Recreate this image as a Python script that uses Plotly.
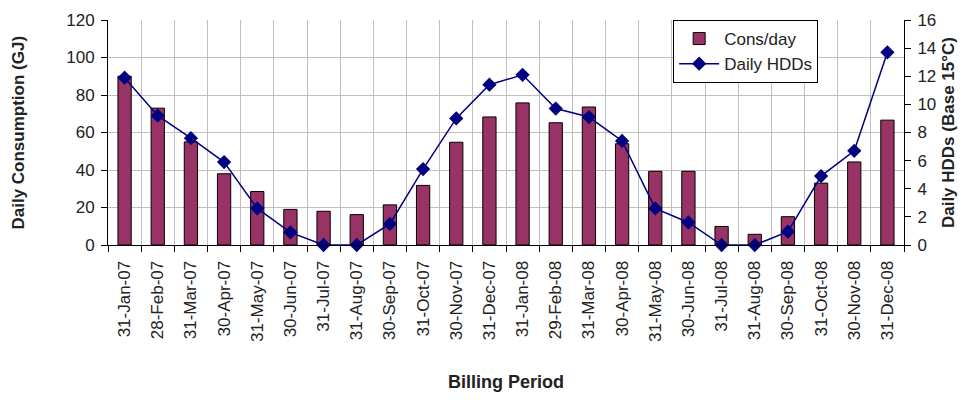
import plotly.graph_objects as go

PERIODS = [
    "31-Jan-07", "28-Feb-07", "31-Mar-07", "30-Apr-07", "31-May-07", "30-Jun-07",
    "31-Jul-07", "31-Aug-07", "30-Sep-07", "31-Oct-07", "30-Nov-07", "31-Dec-07",
    "31-Jan-08", "29-Feb-08", "31-Mar-08", "30-Apr-08", "31-May-08", "30-Jun-08",
    "31-Jul-08", "31-Aug-08", "30-Sep-08", "31-Oct-08", "30-Nov-08", "31-Dec-08",
]
CONS_PER_DAY = [
    90, 73, 55, 38, 28.5, 19, 18, 16.2, 21.4, 31.8, 54.8, 68.3,
    75.8, 65.2, 73.6, 54, 39.3, 39.3, 9.9, 5.7, 15.1, 33, 44.3, 66.6,
]
DAILY_HDDS = [
    11.9, 9.2, 7.6, 5.9, 2.6, 0.9, 0, 0, 1.5, 5.4, 9.0, 11.4,
    12.1, 9.7, 9.1, 7.4, 2.6, 1.6, 0, 0, 0.95, 4.9, 6.7, 13.7,
]

FONT = "Liberation Sans, Arial, sans-serif"

fig = go.Figure()
fig.add_trace(go.Bar(
    x=PERIODS, y=CONS_PER_DAY, name="Cons/day",
    marker=dict(color="#993366", line=dict(color="black", width=1)),
    width=0.4,
))
fig.add_trace(go.Scatter(
    x=PERIODS, y=DAILY_HDDS, name="Daily HDDs", yaxis="y2",
    mode="lines+markers", cliponaxis=False,
    line=dict(color="#000080", width=1.5),
    marker=dict(symbol="diamond", size=11, color="#000080"),
))

axis_common = dict(
    automargin=False,
    showline=True, linecolor="black", linewidth=1,
    ticks="outside", ticklen=6, tickcolor="black",
    tickfont=dict(size=17),
)

# page body has an 8px margin, so the figure is a bit smaller than the window
fig.update_layout(
    width=950, height=384,
    margin=dict(l=100, r=54, t=12, b=147, autoexpand=False),
    paper_bgcolor="white", plot_bgcolor="white",
    font=dict(family=FONT, size=17, color="#222"),
    showlegend=True,
    legend=dict(
        x=0.71, y=1.0, xanchor="left", yanchor="top",
        bordercolor="black", borderwidth=1, bgcolor="white",
        font=dict(size=17), traceorder="normal",
        tracegroupgap=0, itemwidth=40,
    ),
    xaxis=dict(
        type="category", range=[-0.5, len(PERIODS) - 0.5],
        tickangle=-90, tickson="boundaries", ticklabelstandoff=8,
        showgrid=True, gridcolor="#c0c0c0", gridwidth=1,
        **axis_common,
    ),
    yaxis=dict(
        range=[0, 120], tickvals=[0, 20, 40, 60, 80, 100, 120],
        ticklabelstandoff=3,
        showgrid=True, gridcolor="#c0c0c0", gridwidth=1,
        zeroline=False,
        **axis_common,
    ),
    yaxis2=dict(
        range=[0, 16], tickvals=list(range(0, 17, 2)),
        ticklabelstandoff=3,
        overlaying="y", side="right",
        showgrid=False, zeroline=False,
        **axis_common,
    ),
    annotations=[
        dict(text="<b>Billing Period</b>", xref="paper", yref="paper",
             x=0.5, y=-0.61, showarrow=False, font=dict(size=18),
             xanchor="center", yanchor="middle"),
        dict(text="<b>Daily Consumption (GJ)</b>", xref="paper", yref="paper",
             x=-0.113, y=0.5, showarrow=False, font=dict(size=17), textangle=-90,
             xanchor="center", yanchor="middle"),
        dict(text="<b>Daily HDDs (Base 15°C)</b>", xref="paper", yref="paper",
             x=1.056, y=0.5, showarrow=False, font=dict(size=17), textangle=-90,
             xanchor="center", yanchor="middle"),
    ],
)

fig.write_html("out.html")
